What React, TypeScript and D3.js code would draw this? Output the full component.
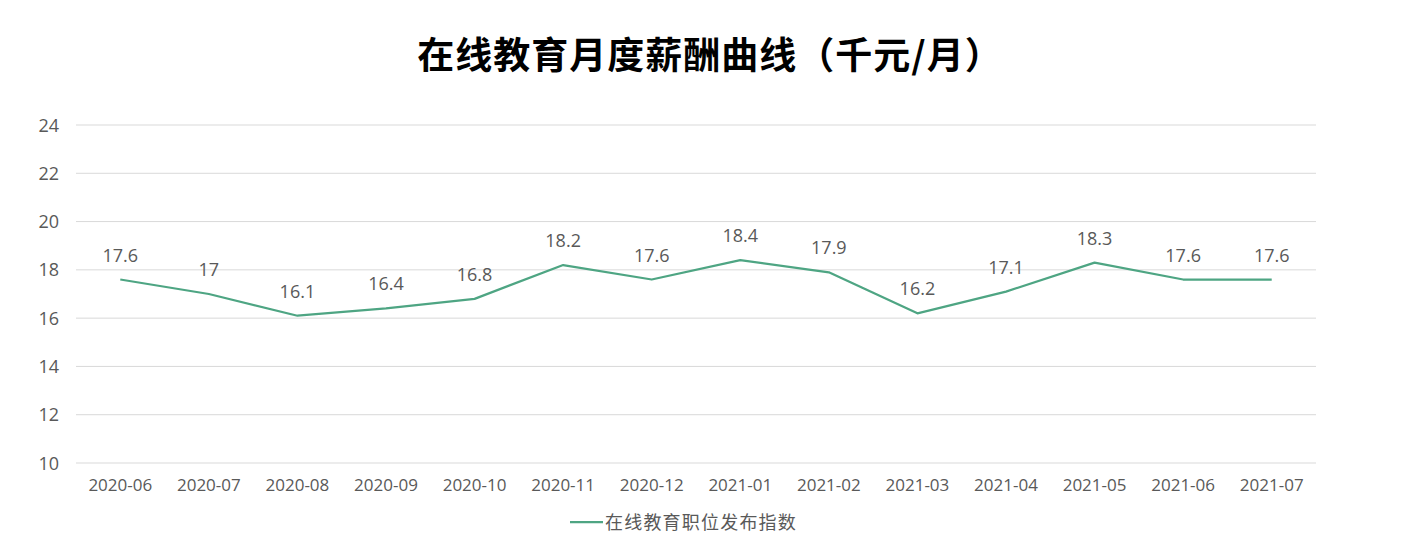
import React from "react";
import * as d3 from "d3";

const categories = ["2020-06","2020-07","2020-08","2020-09","2020-10","2020-11","2020-12","2021-01","2021-02","2021-03","2021-04","2021-05","2021-06","2021-07"];
const values = [17.6,17,16.1,16.4,16.8,18.2,17.6,18.4,17.9,16.2,17.1,18.3,17.6,17.6];
const yTicks = [10,12,14,16,18,20,22,24];
const title = "在线教育月度薪酬曲线（千元/月）";
const seriesName = "在线教育职位发布指数";

const W = 1410, H = 537;
const left = 76, right = 1316, top = 125, bottom = 463;
const lineColor = "#4ea583";
const textColor = "#595959";
const font = "'Open Sans', 'Noto Sans CJK SC', sans-serif";

export default function App() {
  const x = d3.scaleBand<string>().domain(categories).range([left, right]);
  const y = d3.scaleLinear().domain([10, 24]).range([bottom, top]);
  const cx = (c: string) => (x(c) as number) + x.bandwidth() / 2;
  const line = d3.line<number>().x((_, i) => cx(categories[i])).y(d => y(d));
  return (
    <svg width={W} height={H} style={{ position: "absolute", left: 0, top: 0, background: "#fff" }}>
      <text x={710} y={69} textAnchor="middle" fontSize={37} fontWeight="bold" fill="#000" letterSpacing={1} fontFamily="'Noto Sans CJK SC', sans-serif">{title}</text>
      {yTicks.map(t => (
        <g key={t}>
          <line x1={left} x2={right} y1={y(t)} y2={y(t)} stroke="#d9d9d9" strokeWidth={1} />
          <text x={59} y={y(t) + 6.5} textAnchor="end" fontSize={18} fill={textColor} fontFamily={font}>{t}</text>
        </g>
      ))}
      {categories.map(c => (
        <text key={c} x={cx(c)} y={491} textAnchor="middle" fontSize={17} fill={textColor} fontFamily={font}>{c}</text>
      ))}
      <path d={line(values) || ""} fill="none" stroke={lineColor} strokeWidth={2.25} strokeLinejoin="round" />
      {values.map((v, i) => (
        <text key={i} x={cx(categories[i])} y={y(v) - 18} textAnchor="middle" fontSize={18} fill={textColor} fontFamily={font}>{String(v)}</text>
      ))}
      <line x1={570} x2={603} y1={522} y2={522} stroke={lineColor} strokeWidth={2.25} />
      <text x={605} y={528.5} fontSize={18} letterSpacing={1.2} fill={textColor} fontFamily="'Noto Sans CJK SC', sans-serif">{seriesName}</text>
    </svg>
  );
}
